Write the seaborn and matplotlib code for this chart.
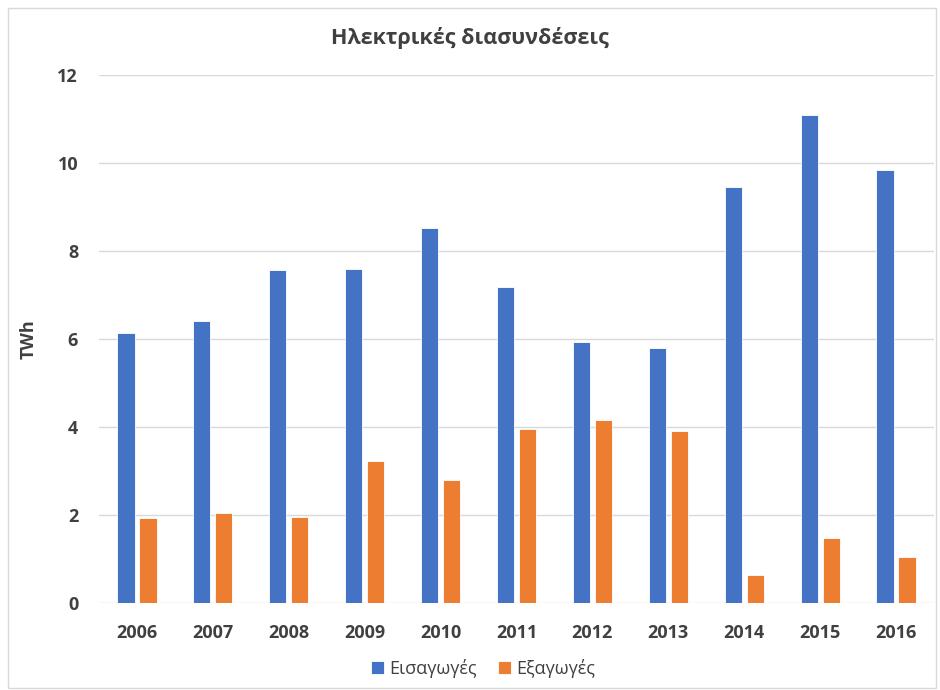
#!/usr/bin/env python3
"""
Electricity interconnections: imports vs exports per year (TWh).
"""

import pandas as pd
import matplotlib.pyplot as plt
import seaborn as sns
from matplotlib.patches import Rectangle

years = ['2006', '2007', '2008', '2009', '2010', '2011',
         '2012', '2013', '2014', '2015', '2016']
imports = [6.13, 6.40, 7.57, 7.60, 8.52, 7.18, 5.94, 5.79, 9.46, 11.08, 9.83]
exports = [1.94, 2.05, 1.95, 3.22, 2.79, 3.95, 4.17, 3.90, 0.64, 1.48, 1.04]
series_names = ['Εισαγωγές', 'Εξαγωγές']
colors = ['#4472C4', '#ED7D31']
y_ticks = [0, 2, 4, 6, 8, 10, 12]


def main():
    df = pd.DataFrame({'year': years * 2,
                       'value': imports + exports,
                       'series': [series_names[0]] * len(years) + [series_names[1]] * len(years)})

    sns.set_style("white")
    plt.rcParams['font.family'] = ['Open Sans', 'DejaVu Sans']

    fig = plt.figure(figsize=(9.4, 6.9), dpi=100)
    ax = fig.add_axes([99 / 940, 1 - 603 / 690, (934 - 99) / 940, (603 - 75) / 690])

    sns.barplot(data=df, x='year', y='value', hue='series', palette=colors,
                saturation=1, width=0.58, gap=0.22, edgecolor='white', linewidth=0.6,
                ax=ax, legend=True)

    ax.set_ylim(0, 12)
    ax.set_xlim(-0.5, len(years) - 0.5)
    ax.set_yticks(y_ticks)
    ax.yaxis.grid(True, color='#D9D9D9', linewidth=1)
    ax.set_axisbelow(True)
    for s in ax.spines.values():
        s.set_visible(False)

    ax.tick_params(axis='both', length=0, labelsize=13, labelcolor='#404040')
    ax.tick_params(axis='x', pad=15)
    ax.tick_params(axis='y', pad=15)
    for lbl in ax.get_xticklabels() + ax.get_yticklabels():
        lbl.set_fontweight('bold')

    ax.set_xlabel('')
    ax.set_ylabel('TWh', fontsize=13, fontweight='bold', color='#404040')
    ax.yaxis.set_label_coords(-(99 - 38) / 835, 0.5)

    fig.text(0.5, 1 - 38 / 690, 'Ηλεκτρικές διασυνδέσεις', ha='center', va='center',
             fontsize=15.5, fontweight='bold', color='#404040')

    handles, labels = ax.get_legend_handles_labels()
    ax.get_legend().remove()
    fig.legend(handles, labels, loc='center', bbox_to_anchor=(483 / 940, 1 - 668 / 690),
               ncol=2, frameon=False, fontsize=13, handlelength=0.7, handleheight=0.7,
               handletextpad=0.3, columnspacing=1.2, labelcolor='#404040')

    # light frame around the chart area
    fig.patches.append(Rectangle((8 / 940, 2 / 690), 928 / 940, 680 / 690,
                                 transform=fig.transFigure, fill=False,
                                 edgecolor='#D9D9D9', linewidth=1))

    plt.savefig('out.png', dpi=100)
    plt.close()


if __name__ == "__main__":
    main()
